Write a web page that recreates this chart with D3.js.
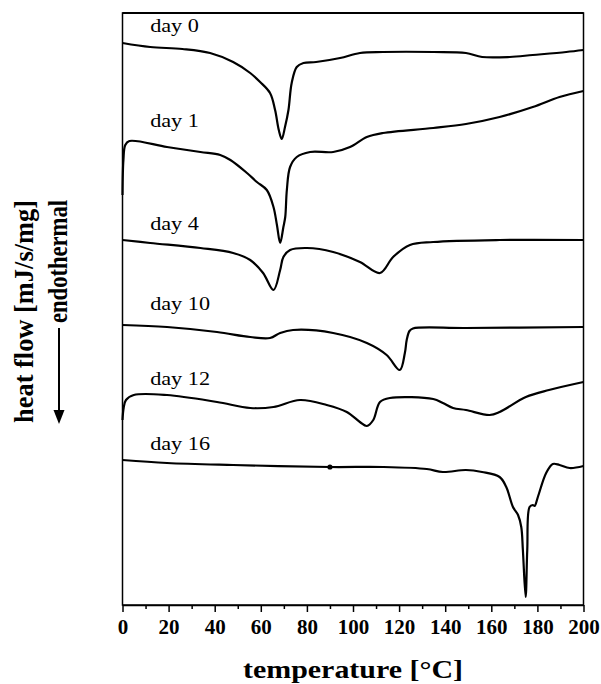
<!DOCTYPE html>
<html>
<head>
<meta charset="utf-8">
<script src="https://cdn.jsdelivr.net/npm/d3@7"></script>
<style>
body { margin: 0; background: #fff; }
text { font-family: "Liberation Serif", "Times New Roman", serif; }
</style>
</head>
<body>
<div id="vis"></div>
<script>
// DSC traces, [temperature °C, heat flow (arbitrary units, offset per day)]
var day0 = [[0,562],[12,558],[26,556],[38,552],[48,543],[55.4,532],[59.7,523],[64,512],[66.2,495],[67.8,475],[69.1,466],[70.5,478],[72,495],[73.4,522],[75.6,538],[78.5,542],[84,543],[94.4,547],[103,552],[113,553],[135,553],[149,552],[156,548],[168,548],[178,550],[192.5,553],[200,555]];
var day1 = [[0,410],[0.4,445],[1.2,460],[3,464],[19.3,458],[33.8,453],[42.4,450],[46.8,445],[54,432],[58.3,423],[62.6,415],[65.5,398],[67,380],[68.4,362],[69.8,378],[70.6,388],[71.3,415],[72.7,438],[75.6,448],[81.4,453],[91.4,453],[98.7,458],[106,468],[113,472],[134.8,477],[149,481],[163.6,488],[178,498],[189.6,508],[200,514]];
var day4 = [[0,365],[12,362],[33.8,357],[48,352],[55.4,345],[61,332],[65.5,315],[68.4,335],[69.8,348],[72.7,355],[80,357],[91.4,353],[103,343],[111.7,332],[117.4,348],[124.7,360],[134.8,363],[163.6,365],[200,365]];
var day10 = [[0,280],[19.3,278],[41,273],[55.4,268],[64,267],[68.4,272],[74,275],[91.4,272],[106,262],[114.6,250],[120.3,235],[122.5,252],[123.3,265],[124.5,274],[126,276.5],[149,277],[200,278]];
var day12 = [[0,185],[0.5,197],[1.5,205],[4.9,210],[19.3,210],[41,203],[55.4,197],[65.5,198],[77,205],[88.6,200],[97.3,193],[103,183],[106,179],[108.8,185],[111.7,203],[116,207],[134.8,206],[139,202],[143.4,197],[149,195],[159.3,190],[163.6,193],[175,208],[185,215],[200,223]];
var day16 = [[0,145],[19.3,142],[48,140],[90,138],[113,138],[132,136],[139,133],[149,135],[156,133],[163.6,128],[166.5,118],[169.4,98],[171.6,90],[173,78],[173.7,55],[174.9,8],[175.6,55],[176.6,98],[178,100],[178.8,99],[180.2,108],[183.8,132],[186.7,141],[189.6,140],[194,137],[200,139]];

var series = [day0, day1, day4, day10, day12, day16];
var dayLabels = ["day 0", "day 1", "day 4", "day 10", "day 12", "day 16"];
var labelLevel = [573, 478, 375, 295, 220, 155];
var labelTemp = 12;
var dotMark = [90, 138];

var xTicks = [0, 20, 40, 60, 80, 100, 120, 140, 160, 180, 200];
var xMinor = [10, 30, 50, 70, 90, 110, 130, 150, 170, 190];

var svg = d3.select("#vis").append("svg")
    .attr("width", 601)
    .attr("height", 684);

var x = d3.scaleLinear().domain([0, 200]).range([122.5, 583.5]);
var y = d3.scaleLinear().domain([0, 592]).range([605, 13]);

// frame
svg.append("rect")
    .attr("x", x(0)).attr("y", y(592))
    .attr("width", x(200) - x(0)).attr("height", y(0) - y(592))
    .attr("fill", "none").attr("stroke", "#000").attr("stroke-width", 1.5);
svg.append("line")
    .attr("x1", x(0)).attr("x2", x(200)).attr("y1", y(592)).attr("y2", y(592))
    .attr("stroke", "#000").attr("stroke-width", 2);

var line = d3.line()
    .x(function(d) { return x(d[0]); })
    .y(function(d) { return y(d[1]); })
    .curve(d3.curveCatmullRom.alpha(0.5));

svg.selectAll("path.trace")
    .data(series).enter()
    .append("path")
    .attr("class", "trace")
    .attr("d", line)
    .attr("fill", "none")
    .attr("stroke", "#000")
    .attr("stroke-width", 2.2)
    .attr("stroke-linejoin", "round");

svg.append("circle")
    .attr("cx", x(dotMark[0])).attr("cy", y(dotMark[1]))
    .attr("r", 2.6).attr("fill", "#000");

svg.selectAll("text.day")
    .data(dayLabels).enter()
    .append("text")
    .attr("class", "day")
    .attr("transform", function(d, i) {
        return "translate(" + x(labelTemp) + "," + y(labelLevel[i]) + ") scale(1.17,1)";
    })
    .attr("font-size", 19)
    .text(function(d) { return d; });

// x axis
var ax = svg.append("g")
    .attr("transform", "translate(0," + y(0) + ")")
    .call(d3.axisBottom(x).tickValues(xTicks).tickSize(7).tickPadding(7).tickSizeOuter(0));
ax.select(".domain").attr("stroke-width", 1.5);
ax.selectAll(".tick line").attr("stroke-width", 1.5);
ax.selectAll(".tick text")
    .attr("font-family", "Liberation Serif, serif")
    .attr("font-weight", "bold")
    .attr("font-size", 21)
    .attr("fill", "#000");

var axm = svg.append("g")
    .attr("transform", "translate(0," + y(0) + ")")
    .call(d3.axisBottom(x).tickValues(xMinor).tickSize(4).tickFormat(""));
axm.select(".domain").remove();
axm.selectAll(".tick line").attr("stroke-width", 1.5);

svg.append("text")
    .attr("x", (x(0) + x(200)) / 2)
    .attr("y", 678)
    .attr("text-anchor", "middle")
    .attr("font-weight", "bold")
    .attr("font-size", 25)
    .attr("textLength", 220)
    .attr("lengthAdjust", "spacingAndGlyphs")
    .text("temperature [°C]");

// y label
svg.append("text")
    .attr("transform", "translate(33,200) rotate(-90) scale(1,1.15)")
    .attr("text-anchor", "end")
    .attr("font-weight", "bold")
    .attr("font-size", 24)
    .attr("textLength", 223)
    .attr("lengthAdjust", "spacingAndGlyphs")
    .text("heat flow [mJ/s/mg]");

svg.append("text")
    .attr("transform", "translate(67,200) rotate(-90) scale(1,1.15)")
    .attr("text-anchor", "end")
    .attr("font-weight", "bold")
    .attr("font-size", 23)
    .attr("textLength", 123)
    .attr("lengthAdjust", "spacingAndGlyphs")
    .text("endothermal");

svg.append("line")
    .attr("x1", 59).attr("x2", 59).attr("y1", 328).attr("y2", 412)
    .attr("stroke", "#000").attr("stroke-width", 2);
svg.append("path")
    .attr("d", "M53.5,410 L64.5,410 L59,424 Z")
    .attr("fill", "#000");
</script>
</body>
</html>
